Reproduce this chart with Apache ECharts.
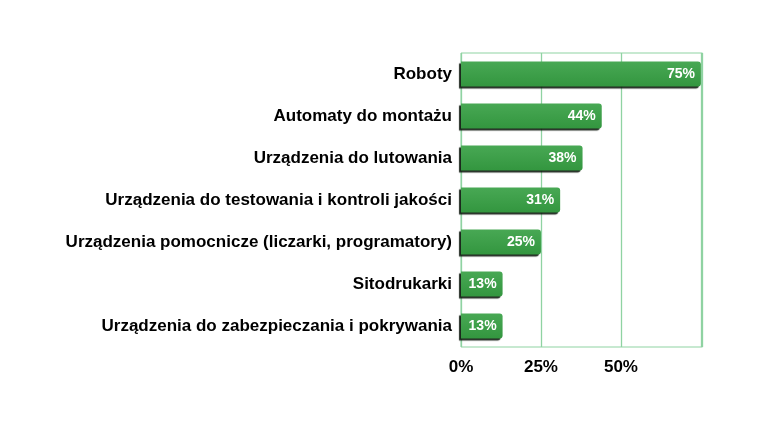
<!DOCTYPE html>
<html>
<head>
<meta charset="utf-8">
<script src="https://cdn.jsdelivr.net/npm/echarts@6/dist/echarts.min.js"></script>
<style>
  html, body { margin:0; padding:0; background:#fff; }
  #chart { width:764px; height:429px; }
</style>
</head>
<body>
<div id="chart"></div>
<script>
// === Datos ===
const categories = [
  'Roboty',
  'Automaty do montażu',
  'Urządzenia do lutowania',
  'Urządzenia do testowania i kontroli jakości',
  'Urządzenia pomocnicze (liczarki, programatory)',
  'Sitodrukarki',
  'Urządzenia do zabezpieczania i pokrywania'
];
const values = [75, 44, 38, 31, 25, 13, 13];
const xTicks = [0, 25, 50];

// === Estilo ===
const font = 'Liberation Sans, Arial, sans-serif';
const gridCol = '#8fd3a2';

const chart = echarts.init(document.getElementById('chart'));
chart.setOption({
  backgroundColor: '#fff',
  grid: { left: 461, right: 61.5, top: 53, bottom: 82, show: true, borderColor: gridCol, borderWidth: 1 },
  xAxis: {
    type: 'value', min: 0, max: 75.5, interval: 25,
    axisLine: { show: false }, axisTick: { show: false },
    splitLine: { show: true, lineStyle: { color: [gridCol], width: 1.3, opacity: 1 } },
    axisLabel: {
      showMaxLabel: false, margin: 12, color: '#000', fontFamily: font, fontWeight: 'bold', fontSize: 17,
      formatter: v => xTicks.includes(v) ? v + '%' : ''
    }
  },
  yAxis: {
    type: 'category', data: categories, inverse: true,
    axisLine: { show: false }, axisTick: { show: false }, splitLine: { show: false },
    axisLabel: { margin: 9, color: '#000', fontFamily: font, fontWeight: 'bold', fontSize: 17 }
  },
  series: [{
    type: 'bar', data: values, barWidth: 25,
    itemStyle: {
      color: new echarts.graphic.LinearGradient(0, 0, 0, 1, [
        { offset: 0, color: '#48a854' },
        { offset: 1, color: '#33963f' }
      ]),
      borderRadius: [0, 3, 3, 0],
      shadowColor: 'rgba(10,20,10,0.9)', shadowOffsetX: -2, shadowOffsetY: 2, shadowBlur: 1
    },
    label: {
      show: true, position: 'insideRight', distance: 6, color: '#fff',
      fontFamily: font, fontWeight: 'bold', fontSize: 14,
      formatter: p => p.value + '%'
    }
  }]
});
</script>
</body>
</html>
